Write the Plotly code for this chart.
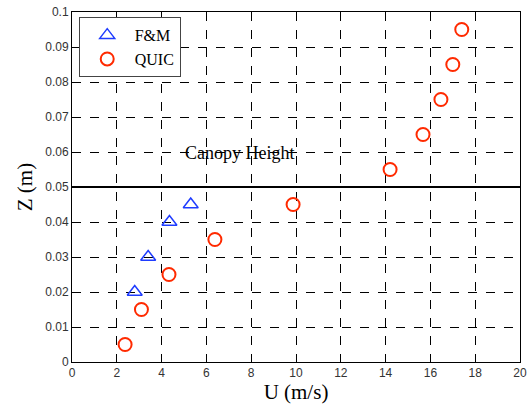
import plotly.graph_objects as go

fm_u = [2.8, 3.4, 4.35, 5.3]
fm_z = [0.02, 0.03, 0.04, 0.045]
quic_u = [2.37, 3.1, 4.33, 6.38, 9.87, 14.2, 15.67, 16.47, 17.0, 17.4]
quic_z = [0.005, 0.015, 0.025, 0.035, 0.045, 0.055, 0.065, 0.075, 0.085, 0.095]
canopy_z = 0.05
x_ticks = [0, 2, 4, 6, 8, 10, 12, 14, 16, 18, 20]
y_ticks = [0, 0.01, 0.02, 0.03, 0.04, 0.05, 0.06, 0.07, 0.08, 0.09, 0.1]
y_labels = ["0", "0.01", "0.02", "0.03", "0.04", "0.05", "0.06", "0.07", "0.08", "0.09", "0.1"]

fig = go.Figure()
fig.add_trace(go.Scatter(x=fm_u, y=fm_z, mode="markers", name="F&M",
                         marker=dict(symbol="triangle-up-open", size=13, color="#1f3cff",
                                     line=dict(width=1.5, color="#1f3cff"))))
fig.add_trace(go.Scatter(x=quic_u, y=quic_z, mode="markers", name="QUIC",
                         marker=dict(symbol="circle-open", size=13, color="#ff2a00",
                                     line=dict(width=2, color="#ff2a00"))))
fig.add_trace(go.Scatter(x=[0, 20], y=[canopy_z, canopy_z], mode="lines", showlegend=False,
                         line=dict(color="black", width=2)))
fig.add_annotation(x=7.5, y=0.0597, text="Canopy Height", showarrow=False,
                   font=dict(family="Liberation Serif", size=18, color="black"))

axis_common = dict(showline=True, linecolor="black", linewidth=1, mirror=True,
                   ticks="inside", ticklen=5, tickcolor="black",
                   showgrid=True, gridcolor="black", griddash="dash", gridwidth=1,
                   zeroline=False, automargin=False, ticklabeloverflow="allow",
                   tickfont=dict(family="Liberation Sans", size=12, color="#333333"))
fig.update_xaxes(range=[0, 20], tickvals=x_ticks, **axis_common,
                 title=dict(text="U (m/s)", font=dict(family="Liberation Serif", size=21, color="black"),
                            standoff=2))
fig.update_yaxes(range=[0, 0.1], tickvals=y_ticks, ticktext=y_labels, **axis_common,
                 title=dict(text="Z (m)", font=dict(family="Liberation Serif", size=21, color="black"),
                            standoff=6))
fig.update_layout(width=530, height=409, margin=dict(l=72, r=10, t=12, b=47),
                  plot_bgcolor="white", paper_bgcolor="white",
                  legend=dict(x=0.015, y=0.985, xanchor="left", yanchor="top",
                              bgcolor="white", bordercolor="#444444", borderwidth=1,
                              tracegroupgap=0, itemwidth=45,
                              font=dict(family="Liberation Serif", size=16, color="black")))
fig.write_html("out.html", config={"displayModeBar": False},
               post_script="document.body.style.margin='0';")
